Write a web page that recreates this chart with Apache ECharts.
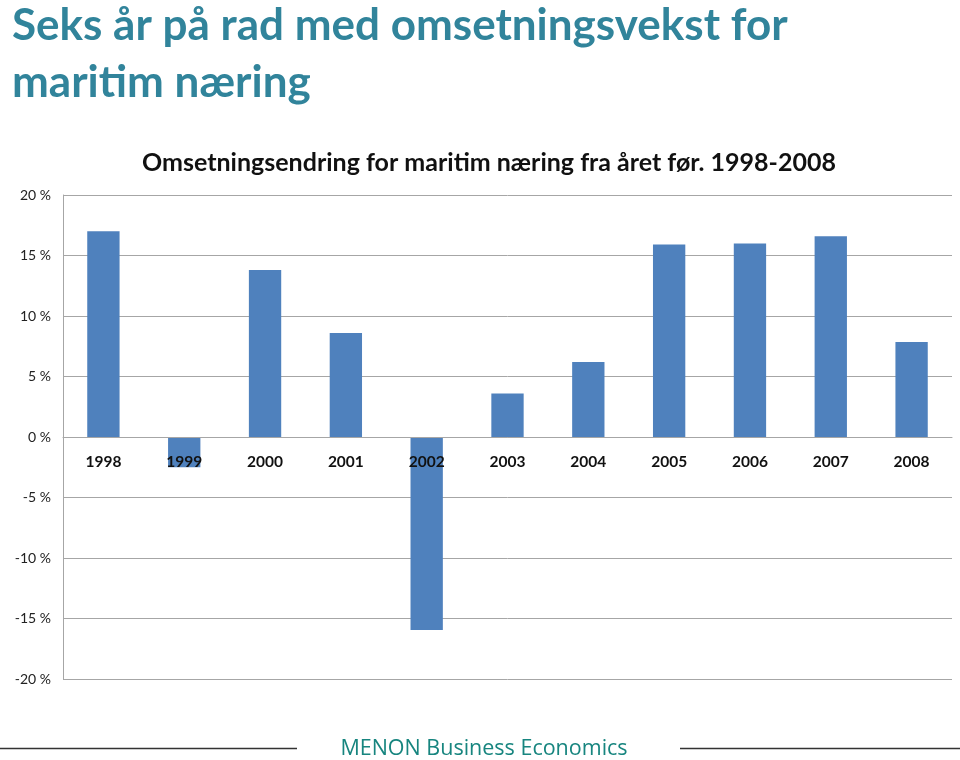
<!DOCTYPE html>
<html><head><meta charset="utf-8">
<script src="https://cdn.jsdelivr.net/npm/echarts@6/dist/echarts.min.js"></script>
<style>html,body{margin:0;padding:0;background:#fff}#c{width:960px;height:760px}</style>
</head><body><div id="c"></div>
<script>
const years = ['1998','1999','2000','2001','2002','2003','2004','2005','2006','2007','2008'];
const changePct = [17.0, -2.5, 13.8, 8.6, -15.95, 3.6, 6.2, 15.9, 16.0, 16.6, 7.85];
const yTicks = { min: -20, max: 20, interval: 5 };

const chart = echarts.init(document.getElementById('c'));
const font = 'Lato, "Open Sans", sans-serif';
chart.setOption({
  animation: false,
  backgroundColor: '#fff',
  title: [
    { text: 'Seks år på rad med omsetningsvekst for\nmaritim næring', left: 7, top: -8,
      textStyle: { color: '#31849B', fontSize: 44, fontWeight: 'bold', fontFamily: font, lineHeight: 57 } },
    { text: 'Omsetningsendring for maritim næring fra året før. 1998-2008', left: 484, top: 145, textAlign: 'center',
      textStyle: { color: '#111', fontSize: 25, fontWeight: 'bold', fontFamily: font } }
  ],
  grid: { left: 63, right: 8, top: 195, bottom: 81, containLabel: false },
  xAxis: {
    type: 'category', data: years, z: 10, position: 'bottom', offset: -242,
    axisLine: { onZero: false, lineStyle: { color: '#a6a6a6', width: 1 } },
    axisTick: { show: false },
    axisLabel: { color: '#111', fontSize: 15.5, fontWeight: 'bold', fontFamily: font, margin: 17 },
    splitLine: { show: false }
  },
  yAxis: {
    type: 'value', min: yTicks.min, max: yTicks.max, interval: yTicks.interval,
    axisLine: { show: true, lineStyle: { color: '#a6a6a6' } },
    axisTick: { show: false },
    axisLabel: { formatter: '{value} %', color: '#222', fontSize: 14, fontFamily: font, margin: 12 },
    splitLine: { show: true, lineStyle: { color: '#a6a6a6', width: 1 } }
  },
  series: [{
    type: 'bar', data: changePct, barCategoryGap: '60%',
    itemStyle: { color: '#4F81BD' }
  }],
  graphic: [
    { type: 'line', shape: { x1: 0, y1: 748.5, x2: 297, y2: 748.5 }, style: { stroke: '#333', lineWidth: 1.5 } },
    { type: 'line', shape: { x1: 680, y1: 748.5, x2: 960, y2: 748.5 }, style: { stroke: '#333', lineWidth: 1.5 } },
    { type: 'text', x: 484, y: 749, style: { text: 'MENON Business Economics', fill: '#17857f', fontSize: 21.5, fontFamily: '"Open Sans", sans-serif', align: 'center', verticalAlign: 'middle' } }
  ]
});
</script></body></html>
